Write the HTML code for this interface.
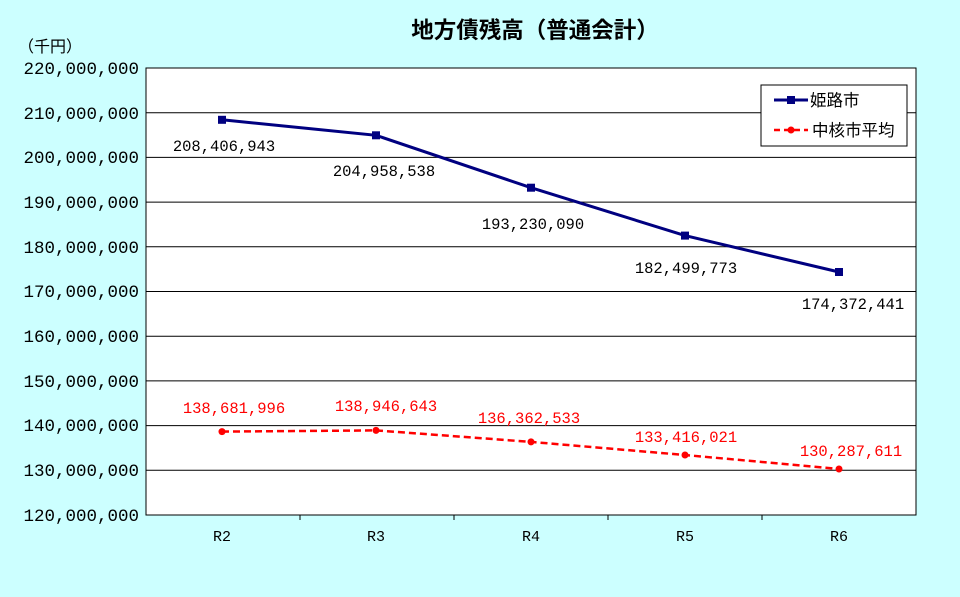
<!DOCTYPE html>
<html><head><meta charset="utf-8"><style>
html,body{margin:0;padding:0;background:#ccffff;}
svg{display:block;}
text{font-family:"Liberation Mono","Noto Sans CJK JP",monospace;}
</style></head><body>
<svg width="960" height="597" viewBox="0 0 960 597" xmlns="http://www.w3.org/2000/svg">
<rect width="960" height="597" fill="#ccffff"/>
<text x="535" y="38" font-size="22.5" font-weight="bold" text-anchor="middle" font-family="'Noto Sans CJK JP',sans-serif" fill="#000">地方債残高（普通会計）</text>
<text x="18" y="52" font-size="16" font-family="'Noto Sans CJK JP',sans-serif" fill="#000">（千円）</text>
<rect x="146" y="68" width="770" height="447" fill="#fff" stroke="#000" stroke-width="1"/>
<g stroke="#000" stroke-width="1">
<line x1="146" x2="916" y1="112.7" y2="112.7"/>
<line x1="146" x2="916" y1="157.4" y2="157.4"/>
<line x1="146" x2="916" y1="202.1" y2="202.1"/>
<line x1="146" x2="916" y1="246.8" y2="246.8"/>
<line x1="146" x2="916" y1="291.5" y2="291.5"/>
<line x1="146" x2="916" y1="336.2" y2="336.2"/>
<line x1="146" x2="916" y1="380.9" y2="380.9"/>
<line x1="146" x2="916" y1="425.6" y2="425.6"/>
<line x1="146" x2="916" y1="470.3" y2="470.3"/>
<line x1="300" x2="300" y1="515" y2="520"/>
<line x1="454" x2="454" y1="515" y2="520"/>
<line x1="608" x2="608" y1="515" y2="520"/>
<line x1="762" x2="762" y1="515" y2="520"/>
</g>
<g font-size="17.5" text-anchor="end" fill="#000">
<text x="139" y="74">220,000,000</text>
<text x="139" y="119">210,000,000</text>
<text x="139" y="163">200,000,000</text>
<text x="139" y="208">190,000,000</text>
<text x="139" y="253">180,000,000</text>
<text x="139" y="297">170,000,000</text>
<text x="139" y="342">160,000,000</text>
<text x="139" y="387">150,000,000</text>
<text x="139" y="431">140,000,000</text>
<text x="139" y="476">130,000,000</text>
<text x="139" y="521">120,000,000</text>
</g>
<g font-size="15" text-anchor="middle" fill="#000">
<text x="222" y="541">R2</text><text x="376" y="541">R3</text><text x="531" y="541">R4</text><text x="685" y="541">R5</text><text x="839" y="541">R6</text>
</g>
<polyline points="222,119.8 376,135.3 531,187.7 685,235.6 839,272" fill="none" stroke="#000080" stroke-width="3"/>
<g fill="#000080">
<rect x="218" y="115.8" width="8" height="8"/><rect x="372" y="131.3" width="8" height="8"/><rect x="527" y="183.7" width="8" height="8"/><rect x="681" y="231.6" width="8" height="8"/><rect x="835" y="268" width="8" height="8"/>
</g>
<polyline points="222,431.6 376,430.4 531,441.9 685,455 839,469" fill="none" stroke="#ff0000" stroke-width="2.5" stroke-dasharray="7,4"/>
<g fill="#ff0000">
<circle cx="222" cy="431.6" r="3.5"/><circle cx="376" cy="430.4" r="3.5"/><circle cx="531" cy="441.9" r="3.5"/><circle cx="685" cy="455" r="3.5"/><circle cx="839" cy="469" r="3.5"/>
</g>
<g font-size="15.5" text-anchor="middle" fill="#000">
<text x="224" y="151">208,406,943</text>
<text x="384" y="176">204,958,538</text>
<text x="533" y="229">193,230,090</text>
<text x="686" y="273">182,499,773</text>
<text x="853" y="309">174,372,441</text>
</g>
<g font-size="15.5" text-anchor="middle" fill="#ff0000">
<text x="234" y="413">138,681,996</text>
<text x="386" y="411">138,946,643</text>
<text x="529" y="423">136,362,533</text>
<text x="686" y="442">133,416,021</text>
<text x="851" y="456">130,287,611</text>
</g>
<rect x="761" y="85" width="146" height="61" fill="#fff" stroke="#000" stroke-width="1"/>
<line x1="774" x2="808" y1="100" y2="100" stroke="#000080" stroke-width="3"/>
<rect x="787" y="96" width="8" height="8" fill="#000080"/>
<text x="810" y="106" font-size="16.5" font-family="'Noto Sans CJK JP',sans-serif" fill="#000">姫路市</text>
<line x1="774" x2="808" y1="130" y2="130" stroke="#ff0000" stroke-width="2.5" stroke-dasharray="6,4"/>
<circle cx="791" cy="130" r="3.5" fill="#ff0000"/>
<text x="812" y="136" font-size="16.5" font-family="'Noto Sans CJK JP',sans-serif" fill="#000">中核市平均</text>
</svg>
</body></html>
